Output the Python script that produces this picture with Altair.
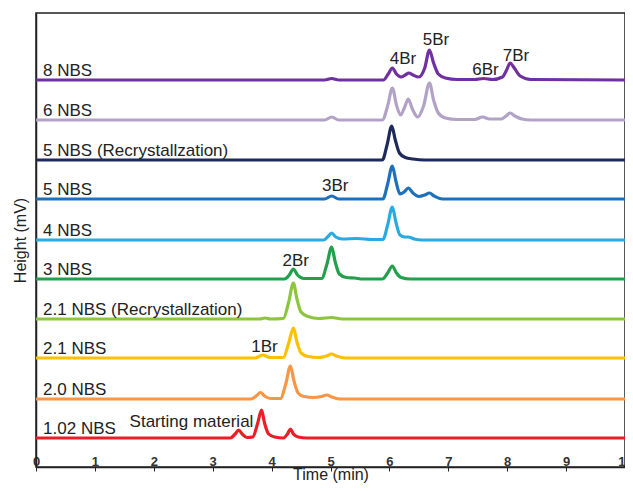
import altair as alt
import pandas as pd

# ---- data (time in min, peak height above each trace's baseline) ----
names = ["1.02 NBS", "2.0 NBS", "2.1 NBS", "2.1 NBS (Recrystallzation)", "3 NBS",
         "4 NBS", "5 NBS", "5 NBS (Recrystallzation)", "6 NBS", "8 NBS"]
offsets = [29, 68, 109, 148, 188, 227, 268, 307, 347, 387]
colors = ["#EE1C25", "#F79646", "#FFC000", "#8CC63F", "#22A04B",
          "#29ABE2", "#1F70BA", "#1E2A5C", "#B3A2C7", "#7030A0"]

t_102 = [0, 3.30, 3.38, 3.44, 3.50, 3.58, 3.68, 3.76, 3.83, 3.88, 3.95, 4.05, 4.20, 4.27, 4.32, 4.37, 4.45, 4.60, 10]
h_102 = [0, 0, 4, 8, 4, 0.5, 1, 14, 28, 15, 4, 1, 0, 4, 9, 4, 1, 0, 0]

t_20 = [0, 3.65, 3.74, 3.81, 3.88, 3.98, 4.15, 4.24, 4.32, 4.38, 4.45, 4.55, 4.70, 4.85, 4.94, 5.02, 5.15, 10]
h_20 = [0, 0, 3, 6.5, 3, 0.5, 0.5, 15, 33, 18, 6, 2.5, 1.5, 2.5, 4, 2, 0, 0]

t_21 = [0, 3.72, 3.85, 3.97, 4.20, 4.29, 4.37, 4.43, 4.50, 4.62, 4.80, 4.93, 5.02, 5.10, 5.25, 10]
h_21 = [0, 0, 3, 0.5, 0.5, 15, 30, 16, 5, 1.5, 0.5, 2, 4, 2, 0, 0]

t_21r = [0, 3.80, 3.89, 3.98, 4.20, 4.29, 4.37, 4.43, 4.50, 4.62, 4.80, 5.02, 5.20, 10]
h_21r = [0, 0, 1, 0, 0.5, 17, 36, 20, 7, 2.5, 0.5, 1.5, 0, 0]

t_3 = [0, 4.22, 4.30, 4.37, 4.44, 4.55, 4.85, 4.94, 5.02, 5.08, 5.15, 5.27, 5.41, 5.55, 5.88, 5.97, 6.05, 6.12, 6.20, 6.35, 10]
h_3 = [0, 0, 4, 10, 4, 0.5, 0.5, 15, 32, 17, 5, 1.5, 1, 0, 0, 6, 13, 6, 1.5, 0, 0]

t_4 = [0, 4.88, 4.95, 5.02, 5.09, 5.20, 5.45, 5.70, 5.89, 5.97, 6.05, 6.11, 6.18, 6.26, 6.32, 6.42, 6.55, 10]
h_4 = [0, 0, 3, 7, 3, 1, 1.5, 0.5, 0.5, 15, 33, 18, 5, 3, 3, 1, 0, 0]

t_5 = [0, 4.90, 5.02, 5.14, 5.89, 5.97, 6.05, 6.11, 6.18, 6.25, 6.32, 6.40, 6.50, 6.60, 6.68, 6.76, 6.90, 10]
h_5 = [0, 0, 3, 0, 0, 15, 33, 18, 5, 7, 11, 6, 2.5, 4, 6, 3, 0, 0]

t_5r = [0, 5.88, 5.96, 6.04, 6.10, 6.17, 6.27, 6.40, 6.60, 10]
h_5r = [0, 0, 15, 34, 20, 7, 2.5, 1, 0, 0]

t_6 = [0, 4.90, 5.02, 5.14, 5.88, 5.97, 6.05, 6.12, 6.19, 6.26, 6.32, 6.39, 6.48, 6.58, 6.68, 6.75, 6.83, 6.95,
       7.15, 7.45, 7.58, 7.70, 7.90, 7.98, 8.05, 8.13, 8.25, 8.40, 10]
h_6 = [0, 0, 3, 0, 0, 14, 32, 15, 5, 13, 21, 11, 3, 14, 37, 20, 7, 2,
       0.5, 0.5, 3, 1, 1, 4, 7, 4, 1, 0, 0]

t_8 = [0, 4.90, 5.02, 5.14, 5.90, 5.98, 6.05, 6.12, 6.20, 6.27, 6.33, 6.40, 6.50, 6.60, 6.68, 6.75, 6.83, 6.95,
       7.15, 7.45, 7.60, 7.75, 7.92, 7.99, 8.05, 8.12, 8.22, 8.40, 10]
h_8 = [0, 0, 1.5, 0, 0, 6, 12, 6, 3, 5, 7, 5, 3, 12, 30, 17, 6, 2,
       0.5, 0.5, 1.5, 0.5, 3, 10, 17, 12, 4, 0.5, 0]

times = [t_102, t_20, t_21, t_21r, t_3, t_4, t_5, t_5r, t_6, t_8]
heights = [h_102, h_20, h_21, h_21r, h_3, h_4, h_5, h_5r, h_6, h_8]

# peak annotations
peak_labels = ["Starting material", "1Br", "2Br", "3Br", "4Br", "5Br", "6Br", "7Br"]
peak_t = [2.64, 3.88, 4.41, 5.08, 6.23, 6.79, 7.63, 8.15]
peak_y = [45, 120, 206, 281, 408, 427, 397, 411]

x_ticks = list(range(0, 11))

# ---- build tables ----
rows = []
for n, off, ts, hs in zip(names, offsets, times, heights):
    for t, h in zip(ts, hs):
        rows.append({"name": n, "t": t, "y": off + h})
df = pd.DataFrame(rows)

lab_df = pd.DataFrame({"name": names, "y": [o + 4.5 for o in offsets]})
peak_df = pd.DataFrame({"label": peak_labels, "t": peak_t, "y": peak_y})

xscale = alt.Scale(domain=[0, 10], nice=False)
yscale = alt.Scale(domain=[0, 454], nice=False)

lines = alt.Chart(df).mark_line(strokeWidth=3.2, interpolate="monotone", clip=False).encode(
    x=alt.X("t:Q", scale=xscale,
            axis=alt.Axis(title="Time (min)", values=x_ticks, format="d", grid=False,
                          domainColor="#222222", domainWidth=1.5, tickColor="#222222",
                          tickSize=4, labelPadding=-16, labelFontSize=13, labelFontWeight="bold",
                          labelColor="#333333", labelFont="Liberation Sans",
                          titleFont="Liberation Sans", titleFontSize=16, titleFontWeight="normal",
                          titleColor="#222222", titleBaseline="alphabetic", titleY=12.5,
                          labelFlush=False)),
    y=alt.Y("y:Q", scale=yscale,
            axis=alt.Axis(title="Height (mV)", labels=False, ticks=False, grid=False,
                          domainColor="#222222", domainWidth=1.5,
                          titleFont="Liberation Sans", titleFontSize=16, titleFontWeight="normal",
                          titleColor="#222222", titlePadding=8)),
    color=alt.Color("name:N", scale=alt.Scale(domain=names, range=colors), legend=None),
    detail="name:N",
)

name_text = alt.Chart(lab_df).mark_text(
    align="left", baseline="alphabetic", fontSize=17, font="Liberation Sans", color="#222222"
).encode(
    x=alt.datum(0.12),
    y=alt.Y("y:Q", scale=yscale),
    text="name:N",
)

peak_text = alt.Chart(peak_df).mark_text(
    align="center", baseline="middle", fontSize=17, font="Liberation Sans", color="#222222"
).encode(
    x=alt.X("t:Q", scale=xscale),
    y=alt.Y("y:Q", scale=yscale),
    text="label:N",
)

chart = alt.layer(lines, name_text, peak_text).properties(
    width=589, height=454,
    autosize=alt.AutoSizeParams(type="none"),
    padding={"left": 28, "top": 5, "right": 0, "bottom": 16},
    background="white",
).configure_view(stroke="#222222", strokeWidth=1.5)

chart.save("out.html", embed_options={"renderer": "svg", "actions": False})
